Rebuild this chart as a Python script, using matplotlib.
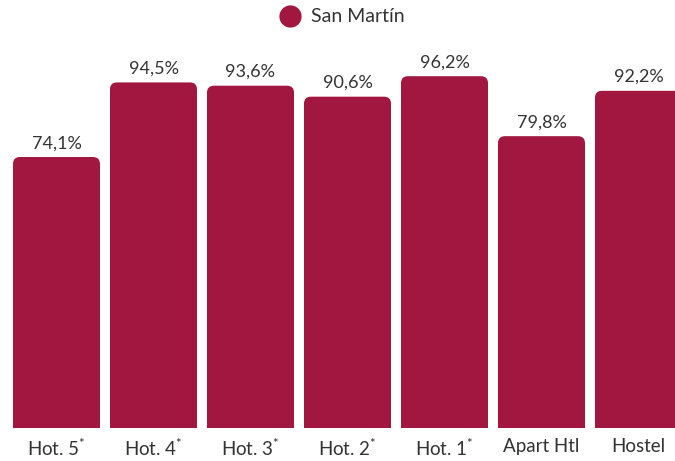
import matplotlib
matplotlib.use("Agg")
import matplotlib.pyplot as plt
from matplotlib.patches import FancyBboxPatch, Rectangle
from matplotlib.lines import Line2D

plt.rcParams['font.family'] = ['Lato', 'DejaVu Sans']
plt.rcParams['mathtext.default'] = 'regular'

categories = ["Hot. 5$^{*}$", "Hot. 4$^{*}$", "Hot. 3$^{*}$", "Hot. 2$^{*}$", "Hot. 1$^{*}$", "Apart Htl", "Hostel"]
values = [74.1, 94.5, 93.6, 90.6, 96.2, 79.8, 92.2]
labels = ["74,1%", "94,5%", "93,6%", "90,6%", "96,2%", "79,8%", "92,2%"]
series_name = "San Martín"
color = "#A1173F"
text_color = "#333333"

W, H = 675, 461
fig = plt.figure(figsize=(W / 100, H / 100), dpi=100)
base_px = 428
ax = fig.add_axes([0, (H - base_px) / H, 1, base_px / H])

px_per_unit_x = 97.0
px_per_unit_y = 3.657
x0 = -56.5 / px_per_unit_x
ax.set_xlim(x0, x0 + W / px_per_unit_x)
ax.set_ylim(0, base_px / px_per_unit_y)

bw = 87 / 97
r_px = 7
r = r_px / px_per_unit_x
aspect = px_per_unit_x / px_per_unit_y
for i, v in enumerate(values):
    left = i - bw / 2
    p = FancyBboxPatch((left, 0), bw, v,
                       boxstyle=f"round,pad=0,rounding_size={r}",
                       mutation_aspect=aspect, fc=color, ec="none", clip_on=True)
    ax.add_patch(p)
    ax.add_patch(Rectangle((left, 0), bw, v / 2, fc=color, ec="none"))
    ax.text(i, v + 1.6, labels[i], ha="center", va="bottom", fontsize=13, color=text_color)

ax.set_xticks(range(len(categories)))
ax.set_xticklabels(categories, fontsize=13.5, color=text_color)
ax.tick_params(axis="x", length=0, pad=7)
ax.set_yticks([])
for s in ax.spines.values():
    s.set_visible(False)

handle = Line2D([], [], marker="o", color=color, linestyle="none", markersize=15)
fig.legend([handle], [series_name], loc="center", bbox_to_anchor=(0.5, 1 - 17 / H),
           frameon=False, fontsize=14, handletextpad=0.1, labelcolor=text_color)

fig.savefig("out.png", dpi=100)
